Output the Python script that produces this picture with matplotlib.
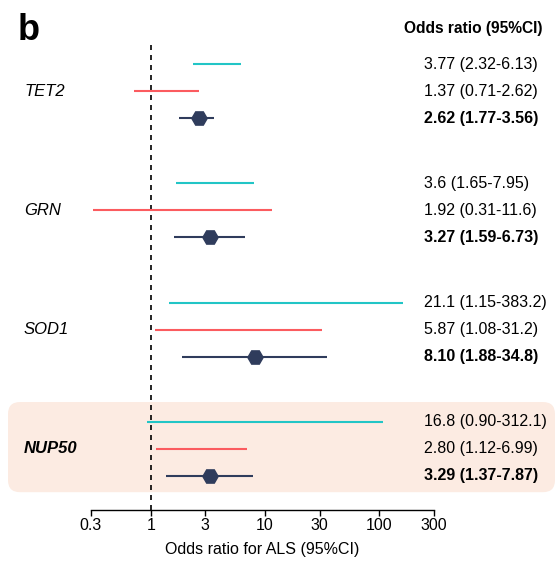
import matplotlib
matplotlib.use('Agg')
import matplotlib.pyplot as plt
from matplotlib.patches import FancyBboxPatch
from matplotlib.transforms import blended_transform_factory, IdentityTransform

plt.rcParams['font.family'] = ['Liberation Sans', 'DejaVu Sans']

# data
genes = ['TET2', 'GRN', 'SOD1', 'NUP50']

# cyan row (line only)
cyan_lo = [2.32, 1.65, 1.43, 0.92]
cyan_hi = [6.13, 7.95, 162, 107]
cyan_txt = ['3.77 (2.32-6.13)', '3.6 (1.65-7.95)', '21.1 (1.15-383.2)', '16.8 (0.90-312.1)']

# red row (line only)
red_lo = [0.71, 0.31, 1.08, 1.12]
red_hi = [2.62, 11.6, 31.2, 6.99]
red_txt = ['1.37 (0.71-2.62)', '1.92 (0.31-11.6)', '5.87 (1.08-31.2)', '2.80 (1.12-6.99)']

# combined row (hexagon + line)
comb_or = [2.62, 3.27, 8.10, 3.29]
comb_lo = [1.77, 1.59, 1.88, 1.37]
comb_hi = [3.56, 6.73, 34.8, 7.87]
comb_txt = ['2.62 (1.77-3.56)', '3.27 (1.59-6.73)', '8.10 (1.88-34.8)', '3.29 (1.37-7.87)']

xticks = [0.3, 1, 3, 10, 30, 100, 300]
xticklabels = ['0.3', '1', '3', '10', '30', '100', '300']

CYAN = '#22c5c6'
RED = '#fb5b5f'
NAVY = '#2f3c5c'
SHADE = '#fcebe2'

fig = plt.figure(figsize=(5.6, 5.63), dpi=100)
ax = fig.add_axes([91 / 560, 53 / 563, 343 / 560, 470 / 563])
ax.set_xscale('log')
ax.set_xlim(0.3, 300)
ax.set_ylim(16.52, -0.89)

GAP = 4.42
lbl = blended_transform_factory(fig.transFigure, ax.transData)

for i, g in enumerate(genes):
    y0 = i * GAP
    ax.plot([cyan_lo[i], cyan_hi[i]], [y0, y0], color=CYAN, lw=1.5, solid_capstyle='butt')
    ax.plot([red_lo[i], red_hi[i]], [y0 + 1, y0 + 1], color=RED, lw=1.5, solid_capstyle='butt')
    ax.plot([comb_lo[i], comb_hi[i]], [y0 + 2, y0 + 2], color=NAVY, lw=1.5, solid_capstyle='butt')
    ax.plot(comb_or[i], y0 + 2, marker='H', ms=11, color=NAVY, zorder=5)

    weight = 'bold' if g == 'NUP50' else 'normal'
    ax.text(24 / 560, y0 + 1, g, transform=lbl, ha='left', va='center',
            fontsize=12, style='italic', weight=weight)
    ax.text(424 / 560, y0, cyan_txt[i], transform=lbl, ha='left', va='center', fontsize=11.5)
    ax.text(424 / 560, y0 + 1, red_txt[i], transform=lbl, ha='left', va='center', fontsize=11.5)
    ax.text(424 / 560, y0 + 2, comb_txt[i], transform=lbl, ha='left', va='center',
            fontsize=11.5, weight='bold')

# shading behind NUP50
y_top = ax.transData.transform((1, 3 * GAP - 0.74))[1]
y_bot = ax.transData.transform((1, 3 * GAP + 2.6))[1]
box = FancyBboxPatch((8, y_bot), 547, y_top - y_bot,
                     boxstyle='round,pad=0,rounding_size=12',
                     transform=IdentityTransform(), facecolor=SHADE,
                     edgecolor='none', zorder=-5)
fig.patches.append(box)
ax.patch.set_visible(False)

ax.axvline(1, color='black', ls=(0, (3, 3)), lw=1.2, zorder=1)

ax.set_xticks(xticks)
ax.set_xticklabels(xticklabels)
ax.minorticks_off()
ax.tick_params(axis='x', length=4, width=1, labelsize=11.5, pad=2)
ax.tick_params(axis='y', left=False, labelleft=False)
for s in ['top', 'right', 'left']:
    ax.spines[s].set_visible(False)
ax.spines['bottom'].set_linewidth(1)
ax.set_xlabel('Odds ratio for ALS (95%CI)', fontsize=11.5, labelpad=6)

fig.text(473 / 560, 1 - 28 / 563, 'Odds ratio (95%CI)', ha='center', va='center',
         fontsize=11.2, weight='bold')
fig.text(18 / 560, 1 - 31 / 563, 'b', ha='left', va='center', fontsize=26, weight='bold')

fig.savefig('out.png', dpi=100)
